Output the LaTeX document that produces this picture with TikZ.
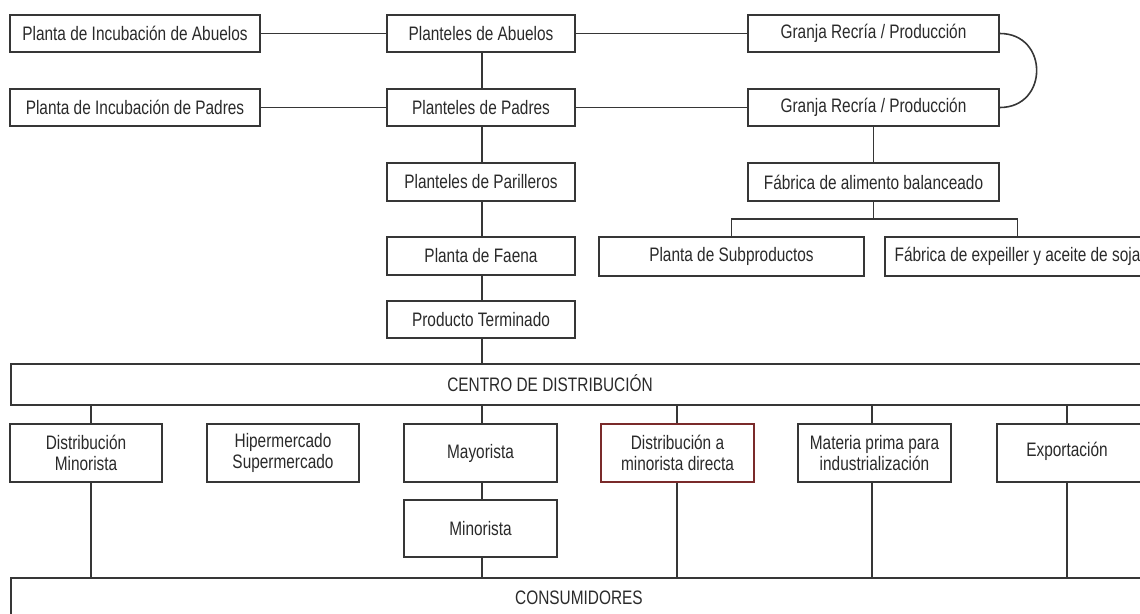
\documentclass[tikz,border=0pt]{standalone}
\usepackage{fontspec}
\setmainfont[FakeStretch=0.79]{Liberation Sans}
\definecolor{boxc}{HTML}{363636}
\definecolor{txtc}{HTML}{2A2A2A}
\definecolor{redc}{HTML}{7A2A2A}
\begin{document}
\begin{tikzpicture}[x=1pt,y=-1pt,
  box/.style={draw=boxc, line width=1.8pt, fill=white, inner sep=0pt, align=center,
    font=\fontsize{19.5}{21}\selectfont, text=txtc},
  lbl/.style={inner sep=0pt, font=\fontsize{19.5}{21}\selectfont, text=txtc},
  conn/.style={draw=boxc, line width=1.6pt}]
\useasboundingbox (0,0) rectangle (1140,613);
\begin{scope}
\clip (0,0) rectangle (1140,613);
% top rows
\node[box, minimum width=250pt, minimum height=37pt] (pia) at (135,33.5) {Planta de Incubación de Abuelos};
\node[box, minimum width=188pt, minimum height=37pt] (pa) at (481,33.5) {Planteles de Abuelos};
\node[box, minimum width=251pt, minimum height=37pt] (g1) at (873.5,33.5) {Granja Recría / Producción};
\node[box, minimum width=250pt, minimum height=37pt] (pip) at (135,107.5) {Planta de Incubación de Padres};
\node[box, minimum width=188pt, minimum height=37pt] (pp) at (481,107.5) {Planteles de Padres};
\node[box, minimum width=251pt, minimum height=37pt] (g2) at (873.5,107.5) {Granja Recría / Producción};
\node[box, minimum width=188pt, minimum height=38pt] (par) at (481,182) {Planteles de Parilleros};
\node[box, minimum width=251pt, minimum height=38pt] (fab) at (873.5,182) {Fábrica de alimento balanceado};
\node[box, minimum width=188pt, minimum height=38pt] (fae) at (481,256) {Planta de Faena};
\node[box, minimum width=265pt, minimum height=39pt] (sub) at (731.5,256.5) {Planta de Subproductos};
\node[box, minimum width=265pt, minimum height=39pt] (soja) at (1017.5,256.5) {Fábrica de expeiller y aceite de soja};
\node[box, minimum width=188pt, minimum height=37pt] (prod) at (481,319.5) {Producto Terminado};
% distribution
\node[box, minimum width=1160pt, minimum height=41pt, anchor=north west] (centro) at (10,363) {};
\node[lbl] (centrot) at (550,383.5) {CENTRO DE DISTRIBUCIÓN};
\node[box, minimum width=152pt, minimum height=58pt] (dm) at (86,453) {Distribución\\Minorista};
\node[box, minimum width=152pt, minimum height=58pt] (hip) at (283,453) {Hipermercado\\Supermercado};
\node[box, minimum width=153pt, minimum height=58pt] (may) at (480.5,453) {Mayorista};
\node[box, minimum width=153pt, minimum height=57pt] (min) at (480.5,528.5) {Minorista};
\node[box, draw=redc, minimum width=153pt, minimum height=58pt] (dmd) at (677.5,453) {Distribución a\\minorista directa};
\node[box, minimum width=153pt, minimum height=58pt] (mat) at (874.5,453) {Materia prima para\\industrialización};
\node[box, minimum width=152pt, minimum height=58pt, anchor=west] (expo) at (996,453) {};
\node[lbl] (expot) at (1067,451.5) {Exportación};
\node[box, minimum width=1160pt, minimum height=45pt, anchor=north west] (cons) at (10,577) {};
\node[lbl] (const) at (579,598) {CONSUMIDORES};
% connector x positions
\coordinate (xa) at (91,0);
\coordinate (xb) at (482,0);
\coordinate (xc) at (677,0);
\coordinate (xd) at (872,0);
\coordinate (xe) at (1067,0);
\coordinate (br) at (873.5,219);
% connectors top
\draw[conn] (pia) -- (pa);
\draw[conn] (pa) -- (g1);
\draw[conn] (pip) -- (pp);
\draw[conn] (pp) -- (g2);
\draw[conn] (pa.south -| xb) -- (pp.north -| xb);
\draw[conn] (pp.south -| xb) -- (par.north -| xb);
\draw[conn] (par.south -| xb) -- (fae.north -| xb);
\draw[conn] (fae.south -| xb) -- (prod.north -| xb);
\draw[conn] (prod.south -| xb) -- (centro.north -| xb);
\draw[conn] (g2) -- (fab);
\draw[conn] (g1.east) .. controls +(49,0) and +(49,0) .. (g2.east);
\draw[conn] (fab.south) -- (br);
\draw[conn] (sub.north) |- (br) -| (soja.north);
% connectors distribution
\draw[conn] (centro.south -| xa) -- (dm.north -| xa);
\draw[conn] (dm.south -| xa) -- (cons.north -| xa);
\draw[conn] (centro.south -| xb) -- (may.north -| xb);
\draw[conn] (may.south -| xb) -- (min.north -| xb);
\draw[conn] (min.south -| xb) -- (cons.north -| xb);
\draw[conn] (centro.south -| xc) -- (dmd.north -| xc);
\draw[conn] (dmd.south -| xc) -- (cons.north -| xc);
\draw[conn] (centro.south -| xd) -- (mat.north -| xd);
\draw[conn] (mat.south -| xd) -- (cons.north -| xd);
\draw[conn] (centro.south -| xe) -- (expo.north -| xe);
\draw[conn] (expo.south -| xe) -- (cons.north -| xe);
\end{scope}
\end{tikzpicture}
\end{document}
